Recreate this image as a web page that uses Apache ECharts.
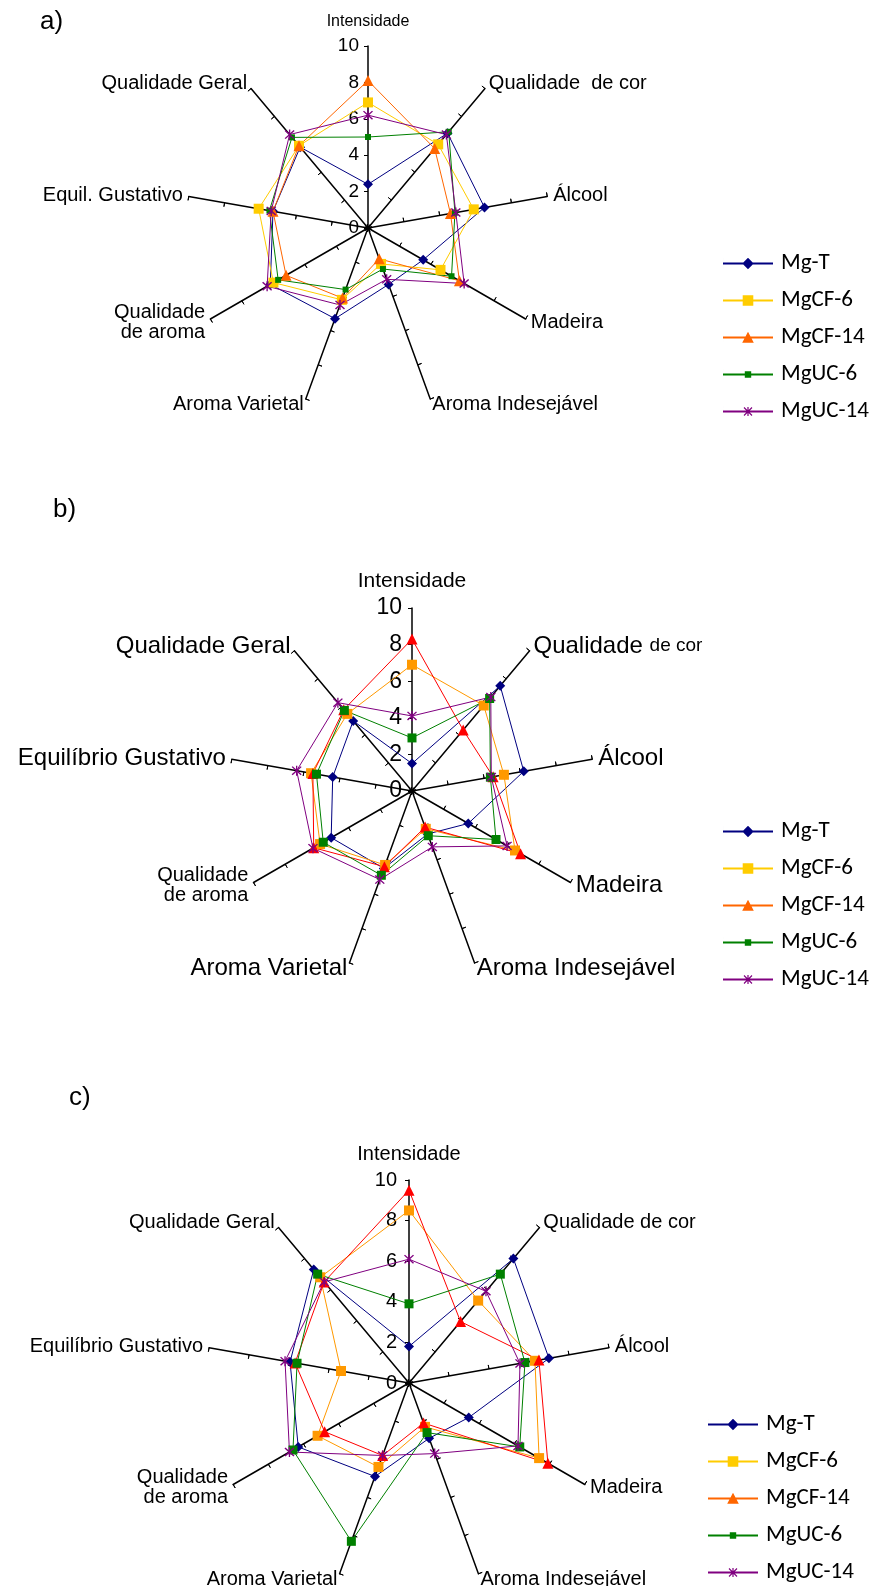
<!DOCTYPE html>
<html><head><meta charset="utf-8">
<script src="https://cdn.jsdelivr.net/npm/echarts@6/dist/echarts.min.js"></script>
<style>html,body{margin:0;padding:0;background:#fff}#c{width:874px;height:1586px}</style>
</head><body><div id="c"></div>
<script>
// ---------- data ----------
const seriesNames = ['Mg-T', 'MgCF-6', 'MgCF-14', 'MgUC-6', 'MgUC-14'];
const categoriesA = ['Intensidade', 'Qualidade  de cor', 'Álcool', 'Madeira', 'Aroma Indesejável', 'Aroma Varietal', 'Qualidade\nde aroma', 'Equil. Gustativo', 'Qualidade Geral'];
const categoriesB = ['Intensidade', 'Qualidade de cor', 'Álcool', 'Madeira', 'Aroma Indesejável', 'Aroma Varietal', 'Qualidade\nde aroma', 'Equilíbrio Gustativo', 'Qualidade Geral'];
const categoriesC = ['Intensidade', 'Qualidade de cor', 'Álcool', 'Madeira', 'Aroma Indesejável', 'Aroma Varietal', 'Qualidade\nde aroma', 'Equilíbrio Gustativo', 'Qualidade Geral'];
const tickLabels = ['0', '2', '4', '6', '8', '10'];
const axisMin = 0;
const axisMax = 10;

// chart a)
const a_MgT    = [2.4, 6.8, 6.5, 3.5, 3.3, 5.3, 6.2, 5.3, 5.8];
const a_MgCF6  = [6.9, 6.0, 5.9, 4.6, 2.1, 4.2, 6.0, 6.1, 5.9];
const a_MgCF14 = [8.1, 5.7, 4.6, 5.8, 1.8, 4.1, 5.2, 5.3, 5.9];
const a_MgUC6  = [5.0, 6.9, 4.85, 5.3, 2.4, 3.6, 5.7, 5.5, 6.5];
const a_MgUC14 = [6.2, 6.7, 4.9, 6.1, 3.0, 4.5, 6.4, 5.4, 6.7];
// chart b)
const b_MgT    = [1.5, 7.5, 6.2, 3.55, 2.5, 4.5, 5.1, 4.4, 5.0];
const b_MgCF6  = [6.9, 6.1, 5.1, 6.5, 2.2, 4.3, 5.8, 5.6, 5.5];
const b_MgCF14 = [8.3, 4.35, 4.5, 6.85, 2.1, 4.4, 6.2, 5.5, 5.8];
const b_MgUC6  = [2.9, 6.6, 4.35, 5.3, 2.6, 4.9, 5.6, 5.3, 5.75];
const b_MgUC14 = [4.1, 6.7, 4.4, 6.0, 3.25, 5.15, 6.25, 6.4, 6.3];
// chart c)
const c_MgT    = [1.8, 8.0, 7.0, 3.4, 2.9, 4.9, 6.3, 5.95, 7.3];
const c_MgCF6  = [8.5, 5.3, 6.3, 7.4, 2.3, 4.4, 5.2, 3.4, 6.8];
const c_MgCF14 = [9.5, 3.95, 6.5, 7.9, 2.1, 3.8, 4.8, 5.7, 6.5];
const c_MgUC6  = [3.9, 7.0, 5.8, 6.3, 2.6, 8.3, 6.6, 5.6, 7.0];
const c_MgUC14 = [6.1, 5.9, 5.55, 6.2, 3.7, 3.8, 6.8, 6.2, 6.5];

// ---------- styles ----------
const FONT = "'Liberation Sans', Arial, sans-serif";
const LEG_FONT = "Carlito, Lato, 'Open Sans', sans-serif";
const legendColors = ['#000080', '#FFCC00', '#FF6600', '#008000', '#800080'];
const colorsA = ['#000080', '#FFCC00', '#FF6600', '#008000', '#800080'];
const colorsBC = ['#000080', '#FF9900', '#FF0000', '#008000', '#800080'];
const starPath = 'path://M4.4,0 L5.6,0 L5.6,10 L4.4,10 Z M0.5,1.4 L1.4,0.5 L9.5,8.6 L8.6,9.5 Z M8.6,0.5 L9.5,1.4 L1.4,9.5 L0.5,8.6 Z';
const symbols = ['diamond', 'rect', 'triangle', 'rect', starPath];
const symSizesA = [10, 10, 11, 6, 10];
const symSizesBC = [10, 10, 11, 9, 10];

const sliver = 'M0,0 L0.01,0 L0.01,12 L0,12 Z ';
const lineP = 'M0,5.1 L50,5.1 L50,6.9 L0,6.9 Z ';
const legendIcons = [
  'path://' + sliver + lineP + 'M25,0.3 L30.7,6 L25,11.7 L19.3,6 Z',
  'path://' + sliver + lineP + 'M19.7,0.7 L30.3,0.7 L30.3,11.3 L19.7,11.3 Z',
  'path://' + sliver + lineP + 'M25,0.3 L30.8,11.3 L19.2,11.3 Z',
  'path://' + sliver + lineP + 'M21.8,2.8 L28.2,2.8 L28.2,9.2 L21.8,9.2 Z',
  'path://' + sliver + lineP + 'M24.4,1.5 L25.6,1.5 L25.6,10.5 L24.4,10.5 Z M20.6,2.4 L21.4,1.6 L29.4,9.6 L28.6,10.4 Z M28.6,1.6 L29.4,2.4 L21.4,10.4 L20.6,9.6 Z'
];

// clockwise order (ECharts lays indicators counter-clockwise)
const order = [0, 8, 7, 6, 5, 4, 3, 2, 1];

function nameFormatter(cls, special) {
  return function (name) {
    const c = special[name] || cls;
    if (typeof c === 'function') return c(name);
    return name.split('\n').map(function (l) { return '{' + c + '|' + l + '}'; }).join('\n');
  };
}

function buildChart(cfg) {
  const radars = [];
  const base = {
    center: cfg.center, radius: cfg.radius, startAngle: 90, shape: 'polygon', splitNumber: 5,
    splitLine: { show: false }, splitArea: { show: false }
  };
  radars.push(Object.assign({}, base, {
    indicator: order.map(function (i) {
      const ind = { name: cfg.cats[i], min: axisMin, max: axisMax };
      if (i === 0) ind.axisLabel = { show: true };
      return ind;
    }),
    nameGap: cfg.nameGap,
    axisName: { color: '#000', fontFamily: FONT, formatter: nameFormatter('n', cfg.special), rich: cfg.rich },
    axisLine: { lineStyle: { color: '#000', width: 1.5 } },
    axisTick: { show: true, length: 4, lineStyle: { color: '#000', width: 1 } },
    axisLabel: {
      show: false, color: '#000', fontFamily: FONT, fontSize: cfg.labelSize, margin: cfg.labelMargin,
      showMinLabel: true, showMaxLabel: true,
      formatter: function (v) { return tickLabels[Math.round(v / 2)]; }
    }
  }));
  radars.push(Object.assign({}, base, {
    indicator: order.map(function (i) { return { name: cfg.cats[i], min: axisMin, max: axisMax }; }),
    axisName: { show: false },
    axisLine: { show: false },
    axisTick: { show: true, inside: true, length: 4, lineStyle: { color: '#000', width: 1 } },
    axisLabel: { show: false }
  }));
  const series = {
    type: 'radar', radarIndex: cfg.radarIndex, silent: true,
    data: cfg.values.map(function (vals, k) {
      return {
        name: seriesNames[k],
        value: order.map(function (i) { return vals[i]; }),
        symbol: symbols[k], symbolSize: cfg.symSizes[k],
        itemStyle: { color: cfg.colors[k] },
        lineStyle: { color: cfg.colors[k], width: 1 }
      };
    })
  };
  return { radars: radars, series: series };
}

function buildLegend(left, top, gap) {
  return {
    orient: 'vertical', left: left, top: top, itemWidth: 50, itemHeight: 13, itemGap: gap,
    selectedMode: false, padding: 0,
    textStyle: { fontFamily: LEG_FONT, fontSize: 23, color: '#000', padding: [0, 0, 0, 3] },
    data: seriesNames.map(function (n, k) {
      return { name: n, icon: legendIcons[k], itemStyle: { color: legendColors[k] } };
    })
  };
}

const A = buildChart({
  center: [368, 228], radius: 182, cats: categoriesA, radarIndex: 0,
  values: [a_MgT, a_MgCF6, a_MgCF14, a_MgUC6, a_MgUC14], colors: colorsA, symSizes: symSizesA,
  labelSize: 19, labelMargin: 9, nameGap: 6,
  rich: { n: { fontSize: 20, fontFamily: FONT, color: '#000' }, s: { fontSize: 16, fontFamily: FONT, color: '#000', padding: [0, 0, 10, 0] } },
  special: { 'Intensidade': 's' }
});
const B = buildChart({
  center: [412, 791], radius: 183, cats: categoriesB, radarIndex: 2,
  values: [b_MgT, b_MgCF6, b_MgCF14, b_MgUC6, b_MgUC14], colors: colorsBC, symSizes: symSizesBC,
  labelSize: 23, labelMargin: 10, nameGap: 6,
  rich: {
    n: { fontSize: 24, fontFamily: FONT, color: '#000' },
    s: { fontSize: 21, fontFamily: FONT, color: '#000', padding: [0, 0, 10, 0] },
    m: { fontSize: 20, fontFamily: FONT, color: '#000' },
    q: { fontSize: 19, fontFamily: FONT, color: '#000' }
  },
  special: {
    'Intensidade': 's', 'Qualidade\nde aroma': 'm',
    'Qualidade de cor': function () { return '{n|Qualidade }{q|de cor}'; }
  }
});
const C = buildChart({
  center: [409, 1383], radius: 203, cats: categoriesC, radarIndex: 4,
  values: [c_MgT, c_MgCF6, c_MgCF14, c_MgUC6, c_MgUC14], colors: colorsBC, symSizes: symSizesBC,
  labelSize: 20, labelMargin: 12, nameGap: 6,
  rich: { n: { fontSize: 20, fontFamily: FONT, color: '#000' }, s: { fontSize: 20, fontFamily: FONT, color: '#000', padding: [0, 0, 10, 0] } },
  special: { 'Intensidade': 's' }
});

const chart = echarts.init(document.getElementById('c'), null, { renderer: 'canvas' });
chart.setOption({
  animation: false,
  backgroundColor: '#fff',
  title: [
    { text: 'a)', left: 40, top: 9, padding: 0, textStyle: { fontFamily: FONT, fontSize: 26, fontWeight: 'normal', color: '#000' } },
    { text: 'b)', left: 53, top: 497, padding: 0, textStyle: { fontFamily: FONT, fontSize: 26, fontWeight: 'normal', color: '#000' } },
    { text: 'c)', left: 69, top: 1085, padding: 0, textStyle: { fontFamily: FONT, fontSize: 26, fontWeight: 'normal', color: '#000' } }
  ],
  legend: [buildLegend(723, 252, 14), buildLegend(723, 820, 14), buildLegend(708, 1413, 14)],
  radar: [].concat(A.radars, B.radars, C.radars),
  series: [A.series, B.series, C.series]
});
</script>
</body></html>
